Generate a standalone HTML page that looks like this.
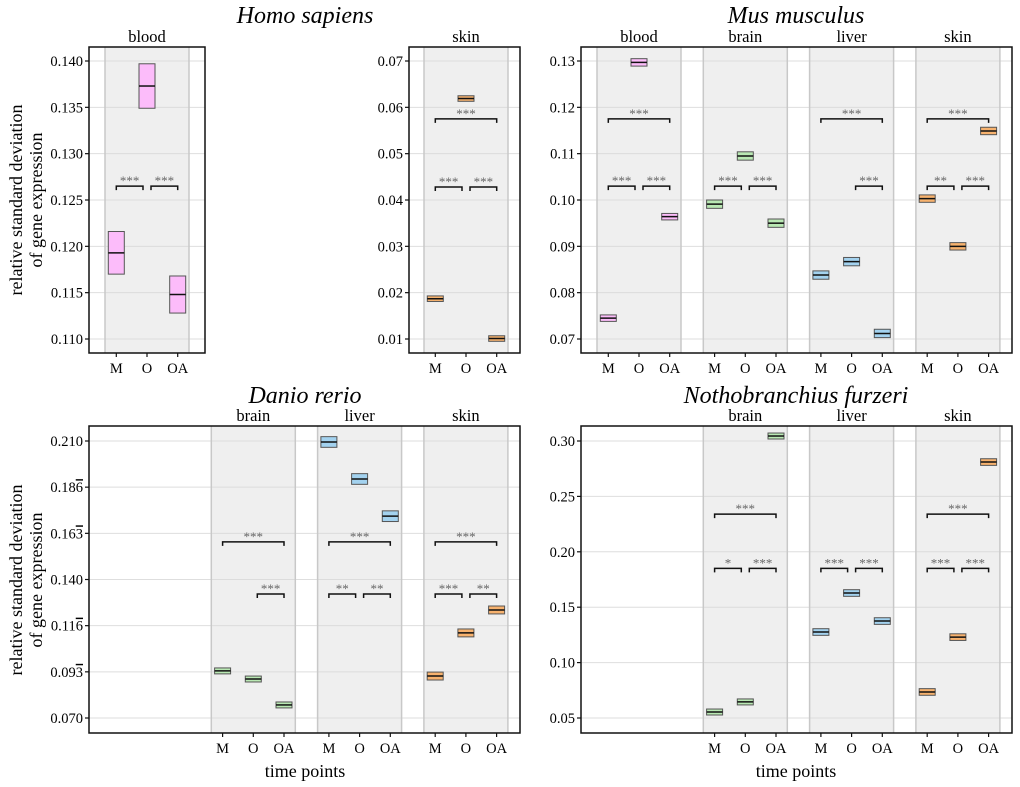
<!DOCTYPE html>
<html><head><meta charset="utf-8">
<style>
html,body{margin:0;padding:0;background:#fff;}
svg{display:block;font-family:"Liberation Serif","DejaVu Serif",serif;}
</style></head>
<body>
<svg id="chart" width="1020" height="787" viewBox="0 0 1020 787" xmlns="http://www.w3.org/2000/svg"></svg>
<script>
// ---------- data ----------
const timePoints = ["M","O","OA"];
const homoBloodMean = [0.1193,0.1373,0.1148];
const homoBloodHalf = [0.0023,0.0024,0.0020];
const homoSkinMean = [0.0187,0.0619,0.0101];
const homoSkinHalf = [0.0006,0.0006,0.0006];
const musBloodMean = [0.0745,0.1297,0.0964];
const musBloodHalf = [0.0007,0.0008,0.0007];
const musBrainMean = [0.0991,0.1095,0.0950];
const musBrainHalf = [0.0009,0.0009,0.0009];
const musLiverMean = [0.0838,0.0867,0.0712];
const musLiverHalf = [0.0009,0.0009,0.0009];
const musSkinMean = [0.1003,0.0900,0.1149];
const musSkinHalf = [0.0008,0.0008,0.0008];
const danioBrainMean = [0.0938,0.0897,0.0766];
const danioBrainHalf = [0.0015,0.0015,0.0015];
const danioLiverMean = [0.2095,0.1908,0.1720];
const danioLiverHalf = [0.0027,0.0027,0.0027];
const danioSkinMean = [0.0912,0.1130,0.1246];
const danioSkinHalf = [0.0020,0.0020,0.0020];
const nfuBrainMean = [0.0554,0.0645,0.3045];
const nfuBrainHalf = [0.0027,0.0027,0.0027];
const nfuLiverMean = [0.1276,0.1628,0.1375];
const nfuLiverHalf = [0.0030,0.0030,0.0030];
const nfuSkinMean = [0.0735,0.1230,0.2810];
const nfuSkinHalf = [0.0030,0.0030,0.0030];
// tick values & labels ([main part, overlined digit])
const homoBloodTicks = [0.110,0.115,0.120,0.125,0.130,0.135,0.140];
const homoBloodTickLabels = ["0.110","0.115","0.120","0.125","0.130","0.135","0.140"];
const homoSkinTicks = [0.01,0.02,0.03,0.04,0.05,0.06,0.07];
const homoSkinTickLabels = ["0.01","0.02","0.03","0.04","0.05","0.06","0.07"];
const musTicks = [0.07,0.08,0.09,0.10,0.11,0.12,0.13];
const musTickLabels = ["0.07","0.08","0.09","0.10","0.11","0.12","0.13"];
const danioTicks = [0.07,0.09333,0.11667,0.14,0.16333,0.18667,0.21];
const danioTickLabels = ["0.070","0.09|3","0.11|6","0.140","0.16|3","0.18|6","0.210"];
const nfuTicks = [0.05,0.10,0.15,0.20,0.25,0.30];
const nfuTickLabels = ["0.05","0.10","0.15","0.20","0.25","0.30"];
// significance brackets: [from index, to index, y value, label]
const homoBloodSig = [[0,1,0.1265,"***"],[1,2,0.1265,"***"]];
const homoSkinSig = [[0,1,0.0428,"***"],[1,2,0.0428,"***"],[0,2,0.0575,"***"]];
const musBloodSig = [[0,1,0.1030,"***"],[1,2,0.1030,"***"],[0,2,0.1175,"***"]];
const musBrainSig = [[0,1,0.1030,"***"],[1,2,0.1030,"***"]];
const musLiverSig = [[1,2,0.1030,"***"],[0,2,0.1175,"***"]];
const musSkinSig = [[0,1,0.1030,"**"],[1,2,0.1030,"***"],[0,2,0.1175,"***"]];
const danioBrainSig = [[1,2,0.1327,"***"],[0,2,0.1590,"***"]];
const danioLiverSig = [[0,1,0.1327,"**"],[1,2,0.1327,"**"],[0,2,0.1590,"***"]];
const danioSkinSig = [[0,1,0.1327,"***"],[1,2,0.1327,"**"],[0,2,0.1590,"***"]];
const nfuBrainSig = [[0,1,0.1850,"*"],[1,2,0.1850,"***"],[0,2,0.2340,"***"]];
const nfuLiverSig = [[0,1,0.1850,"***"],[1,2,0.1850,"***"]];
const nfuSkinSig = [[0,1,0.1850,"***"],[1,2,0.1850,"***"],[0,2,0.2340,"***"]];

const COLORS = {blood:"#fcbcfa",brain:"#b9e8b3",liver:"#a3d2ef",skin:"#f7b26e"};
const NS="http://www.w3.org/2000/svg";
const svg=document.getElementById('chart');
function el(tag,attrs,parent,text){
  const e=document.createElementNS(NS,tag);
  for(const k in attrs) e.setAttribute(k,attrs[k]);
  if(text!==undefined) e.textContent=text;
  (parent||svg).appendChild(e);
  return e;
}

function panel(cfg){
  const g=el('g',{});
  
  
  const {x0,x1,y0,y1}=cfg;
  const lo=cfg.ticks[0], hi=cfg.ticks[cfg.ticks.length-1];
  const yScale=v=>cfg.pLo+(v-lo)*(cfg.pHi-cfg.pLo)/(hi-lo);
  cfg.ticks.forEach((t,i)=>{
    const l=el('line',{x1:x0,x2:x1,y1:yScale(t),y2:yScale(t),stroke:"#dedede","stroke-width":1},g);
    
    
  });
  cfg.facets.forEach(f=>{
    const cx=cfg.slot0+f.slot*106.3;
    const bx0=cx-42, bx1=cx+42;
    const band=el('rect',{x:bx0,y:y0,width:84,height:y1-y0,fill:"#efefef"},g);
    
    
    cfg.ticks.forEach(t=>{
      el('line',{x1:bx0,x2:bx1,y1:yScale(t),y2:yScale(t),stroke:"#dcdcdc","stroke-width":1},g);
    });
    el('line',{x1:bx0,x2:bx0,y1:y0,y2:y1,stroke:"#c8c8c8","stroke-width":1.5},g);
    el('line',{x1:bx1,x2:bx1,y1:y0,y2:y1,stroke:"#c8c8c8","stroke-width":1.5},g);
    const lab=el('text',{x:cx,y:y0-5,"text-anchor":"middle","font-size":16.5},g,f.tissue);
    
    
    const xs=[cx-30.7,cx,cx+30.7];
    f.mean.forEach((m,i)=>{
      const top=yScale(m+f.half[i]), bot=yScale(m-f.half[i]);
      const r=el('rect',{x:xs[i]-8,y:top,width:16,height:Math.max(bot-top,1),fill:COLORS[f.tissue],stroke:"#555","stroke-width":1},g);
      
      
      el('line',{x1:xs[i]-8,x2:xs[i]+8,y1:yScale(m),y2:yScale(m),stroke:"#111","stroke-width":1.5},g);
    });
    f.sig.forEach(s=>{
      let a=xs[s[0]], b=xs[s[1]];
      if(s[1]-s[0]===1){ if(s[0]===0) b-=4; else a+=4; }
      const y=yScale(s[2]);
      const p=el('path',{d:`M${a},${y+4}V${y}H${b}V${y+4}`,fill:"none",stroke:"#111","stroke-width":1.5},g);
      
      
      const t=el('text',{x:(a+b)/2,y:y-1,"text-anchor":"middle","font-size":13,fill:"#666"},g,s[3]);
      
      
    });
    xs.forEach((x,i)=>{
      el('line',{x1:x,x2:x,y1:y1,y2:y1+4,stroke:"#111","stroke-width":1.2},g);
      const t=el('text',{x:x,y:y1+20,"text-anchor":"middle","font-size":14.5},g,timePoints[i]);
      
      
    });
  });
  cfg.ticks.forEach((t,i)=>{
    const y=yScale(t);
    el('line',{x1:x0-4,x2:x0,y1:y,y2:y,stroke:"#111","stroke-width":1.2},g);
    const parts=cfg.tickLabels[i].split('|');
    const tx=el('text',{x:x0-6,y:y+5,"text-anchor":"end","font-size":14.5},g);
    
    
    el('tspan',{},tx,parts[0]);
    if(parts[1]) el('tspan',{"text-decoration":"overline",style:"text-decoration:overline"},tx,parts[1]);
  });
  const fr=el('rect',{x:x0,y:y0,width:x1-x0,height:y1-y0,fill:"none",stroke:"#111","stroke-width":1.5},g);
  
  
}

panel({name:'homo-blood-panel',x0:89,x1:205,y0:47,y1:353,slot0:147,pLo:339,pHi:61,ticks:homoBloodTicks,tickLabels:homoBloodTickLabels,
  facets:[{tissue:'blood',slot:0,mean:homoBloodMean,half:homoBloodHalf,sig:homoBloodSig}]});
panel({name:'homo-skin-panel',x0:409,x1:520,y0:47,y1:353,slot0:466,pLo:339,pHi:61,ticks:homoSkinTicks,tickLabels:homoSkinTickLabels,
  facets:[{tissue:'skin',slot:0,mean:homoSkinMean,half:homoSkinHalf,sig:homoSkinSig}]});
panel({name:'mus-panel',x0:581,x1:1012,y0:47,y1:353,slot0:639,pLo:339,pHi:61,ticks:musTicks,tickLabels:musTickLabels,
  facets:[{tissue:'blood',slot:0,mean:musBloodMean,half:musBloodHalf,sig:musBloodSig},
          {tissue:'brain',slot:1,mean:musBrainMean,half:musBrainHalf,sig:musBrainSig},
          {tissue:'liver',slot:2,mean:musLiverMean,half:musLiverHalf,sig:musLiverSig},
          {tissue:'skin',slot:3,mean:musSkinMean,half:musSkinHalf,sig:musSkinSig}]});
panel({name:'danio-panel',x0:89,x1:520,y0:426,y1:733,slot0:147,pLo:718,pHi:441,ticks:danioTicks,tickLabels:danioTickLabels,
  facets:[{tissue:'brain',slot:1,mean:danioBrainMean,half:danioBrainHalf,sig:danioBrainSig},
          {tissue:'liver',slot:2,mean:danioLiverMean,half:danioLiverHalf,sig:danioLiverSig},
          {tissue:'skin',slot:3,mean:danioSkinMean,half:danioSkinHalf,sig:danioSkinSig}]});
panel({name:'nfu-panel',x0:581,x1:1012,y0:426,y1:733,slot0:639,pLo:718,pHi:441,ticks:nfuTicks,tickLabels:nfuTickLabels,
  facets:[{tissue:'brain',slot:1,mean:nfuBrainMean,half:nfuBrainHalf,sig:nfuBrainSig},
          {tissue:'liver',slot:2,mean:nfuLiverMean,half:nfuLiverHalf,sig:nfuLiverSig},
          {tissue:'skin',slot:3,mean:nfuSkinMean,half:nfuSkinHalf,sig:nfuSkinSig}]});

[["Homo sapiens",305,23,'title-homo-sapiens'],["Mus musculus",796,23,'title-mus-musculus'],
 ["Danio rerio",305,403,'title-danio-rerio'],["Nothobranchius furzeri",796,403,'title-nothobranchius-furzeri']].forEach(t=>{
  const e=el('text',{x:t[1],y:t[2],"text-anchor":"middle","font-size":24,"font-style":"italic"},svg,t[0]);
  
  
});
[200,580].forEach((cy,i)=>{
  const g=el('text',{transform:`translate(0,${cy}) rotate(-90)`,"text-anchor":"middle","font-size":18},svg);
  
  
  el('tspan',{x:0,y:22},g,'relative standard deviation');
  el('tspan',{x:0,y:42},g,'of gene expression');
});
[305,796].forEach(cx=>{
  const e=el('text',{x:cx,y:777,"text-anchor":"middle","font-size":18},svg,'time points');
  
  
});
</script>
</body></html>
